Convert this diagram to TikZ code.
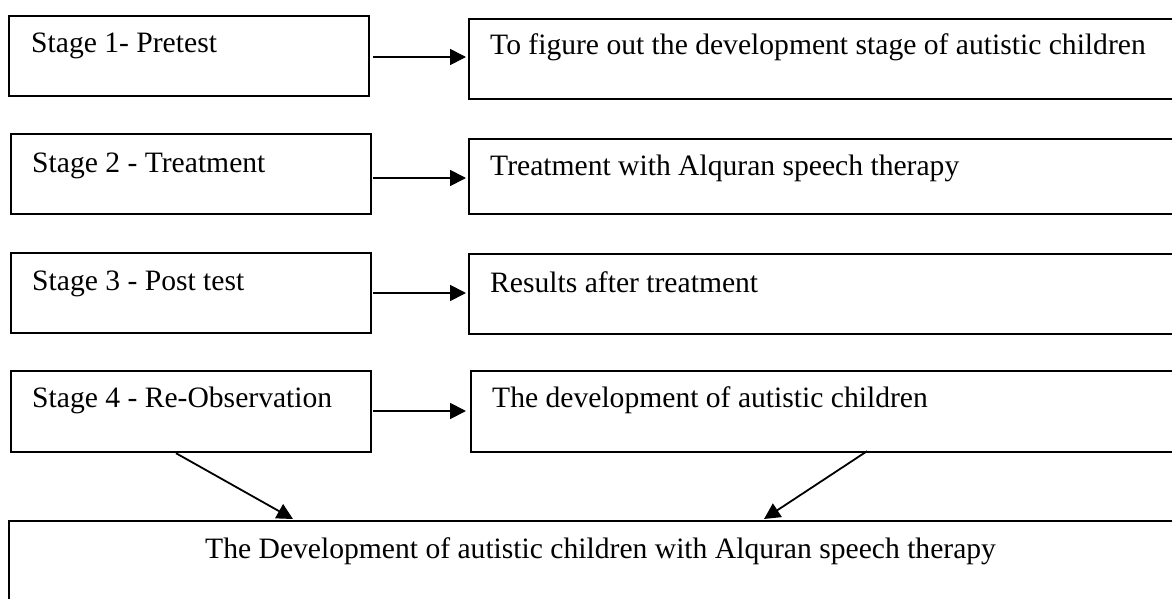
\documentclass[tikz,border=0pt]{standalone}
\usepackage{fontspec}
\setmainfont{Liberation Serif}
\usetikzlibrary{arrows.meta,calc}
\tikzset{
  boxnode/.style={draw=black, line width=2.2pt, inner sep=0pt, anchor=north west},
  txt/.style={inner sep=0pt, anchor=base west, font=\fontsize{29.6}{34}\selectfont},
  arr/.style={line width=1.8pt, -{Triangle[length=16pt,width=16pt]}},
}
\newcommand{\boxat}[5]{\node[boxnode, minimum width=#4pt, minimum height=#5pt] (#1) at (#2,#3) {};}
\begin{document}
\begin{tikzpicture}[x=1pt,y=-1pt]
\useasboundingbox (0,0) rectangle (1172,599);
\fill[white] (0,0) rectangle (1172,599);
\clip (0,0) rectangle (1172,599);
% left boxes
\boxat{s1}{8}{15}{360}{80}
\boxat{s2}{10}{133}{360}{80}
\boxat{s3}{10}{252}{360}{80}
\boxat{s4}{10}{370}{360}{81}
% right boxes
\boxat{r1}{468}{18}{740}{80}
\boxat{r2}{468}{138}{740}{75}
\boxat{r3}{468}{253}{740}{80}
\boxat{r4}{470}{370}{740}{81}
% bottom box
\boxat{b}{8}{520}{1200}{120}
% texts
\node[txt] (s1t) at (31,53) {Stage 1- Pretest};
\node[txt] (s2t) at (32,172) {Stage 2 - Treatment};
\node[txt] (s3t) at (32,290) {Stage 3 - Post test};
\node[txt] (s4t) at (32,407) {Stage 4 - Re-Observation};
\node[txt] (r1t) at (490,55) {To figure out the development stage of autistic children};
\node[txt] (r2t) at (490,175) {Treatment with Alquran speech therapy};
\node[txt] (r3t) at (490,292) {Results after treatment};
\node[txt] (r4t) at (492,407) {The development of autistic children};
\node[txt] (bt) at (205,558) {The Development of autistic children with Alquran speech therapy};
% arrow levels
\coordinate (y1) at (0,57);
\coordinate (y2) at (0,178);
\coordinate (y3) at (0,293);
\coordinate (y4) at (0,411);
\draw[arr] ([xshift=3pt]s1.east |- y1) -- ([xshift=-2pt]r1.west |- y1);
\draw[arr] ([xshift=1pt]s2.east |- y2) -- ([xshift=-2pt]r2.west |- y2);
\draw[arr] ([xshift=1pt]s3.east |- y3) -- ([xshift=-2pt]r3.west |- y3);
\draw[arr] ([xshift=1pt]s4.east |- y4) -- ([xshift=-4pt]r4.west |- y4);
% converging arrows
\coordinate (a1s) at ($(s4.south west)+(166,0)$);
\coordinate (a1e) at ($(b.north west)+(285,-1)$);
\coordinate (a2s) at ($(r4.south west)+(397,-2)$);
\coordinate (a2e) at ($(b.north west)+(756,-1)$);
\draw[arr] (a1s) -- (a1e);
\draw[arr] (a2s) -- (a2e);
\end{tikzpicture}
\end{document}
